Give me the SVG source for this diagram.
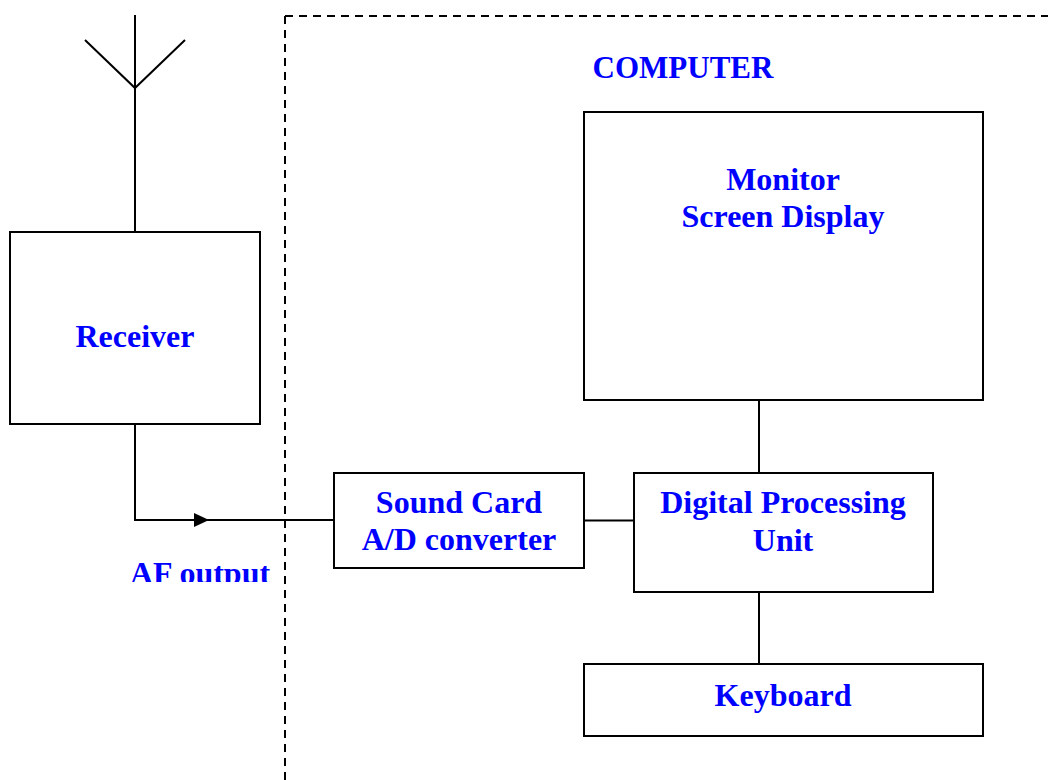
<svg xmlns="http://www.w3.org/2000/svg" width="1048" height="780" viewBox="0 0 1048 780">
<style>
.box{fill:#fff;stroke:#000;stroke-width:2}
.ln{fill:none;stroke:#000;stroke-width:2}
.dash{fill:none;stroke:#000;stroke-width:2;stroke-dasharray:8 6}
.t{font-family:"Liberation Serif","Times New Roman",serif;font-weight:bold;font-size:32px;fill:#0000FF;text-anchor:middle}
</style>
<defs>
<clipPath id="afclip"><rect x="100" y="540" width="200" height="42"/></clipPath>
</defs>
<rect width="1048" height="780" fill="#fff"/>
<g id="computer-boundary">
<path class="dash" d="M285,16 L1048,16"/>
<path class="dash" d="M285,16 L285,780"/>
<text class="t" x="683" y="78" style="font-size:31px">COMPUTER</text>
</g>
<g id="connectors">
<path class="ln" d="M135,15 L135,232"/>
<path class="ln" d="M85,40 L135,88 L185,40"/>
<path class="ln" d="M135,424 L135,520 L334,520"/>
<polygon points="194,513 209,520 194,527" fill="#000"/>
<path class="ln" d="M584,520.5 L634,520.5"/>
<path class="ln" d="M759,400 L759,473"/>
<path class="ln" d="M759,592 L759,664"/>
</g>
<g id="receiver">
<rect class="box" x="10" y="232" width="250" height="192"/>
<text class="t" x="135" y="347">Receiver</text>
</g>
<g id="af-output">
<text class="t" x="200" y="584" clip-path="url(#afclip)">AF output</text>
</g>
<g id="monitor">
<rect class="box" x="584" y="112" width="399" height="288"/>
<text class="t" x="783" y="190">Monitor</text>
<text class="t" x="783" y="227">Screen Display</text>
</g>
<g id="soundcard">
<rect class="box" x="334" y="473" width="250" height="95"/>
<text class="t" x="459" y="513">Sound Card</text>
<text class="t" x="459" y="550">A/D converter</text>
</g>
<g id="dpu">
<rect class="box" x="634" y="473" width="299" height="119"/>
<text class="t" x="783" y="513">Digital Processing</text>
<text class="t" x="783" y="551">Unit</text>
</g>
<g id="keyboard">
<rect class="box" x="584" y="664" width="399" height="72"/>
<text class="t" x="783" y="706">Keyboard</text>
</g>
</svg>
